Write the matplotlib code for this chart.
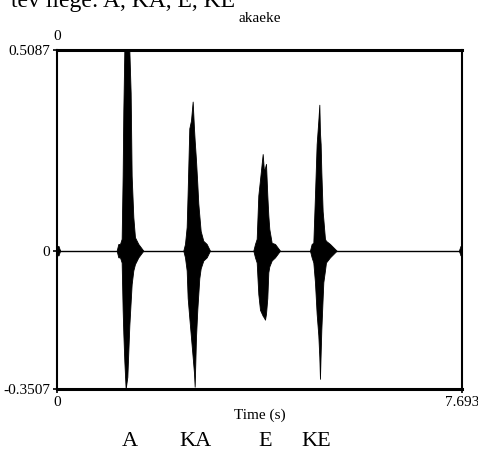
import matplotlib.pyplot as plt

plt.rcParams['font.family'] = ['Liberation Serif', 'DejaVu Serif']

# time axis and amplitude limits
t_max = 7.693
y_top = 0.5087
y_bottom = -0.3507

# envelope of each syllable burst: time (s), upper and lower amplitude
t_a = [1.133, 1.165, 1.197, 1.228, 1.247, 1.260, 1.279, 1.304, 1.336, 1.374, 1.399, 1.418, 1.450, 1.481, 1.545, 1.640]
up_a = [0.0, 0.017, 0.017, 0.03, 0.19, 0.355, 0.5087, 0.5087, 0.5087, 0.5087, 0.40, 0.19, 0.085, 0.034, 0.017, 0.0]
lo_a = [0.0, -0.017, -0.017, -0.03, -0.15, -0.21, -0.28, -0.3507, -0.32, -0.19, -0.13, -0.085, -0.05, -0.034, -0.017, 0.0]

t_ka = [2.399, 2.431, 2.463, 2.482, 2.513, 2.545, 2.577, 2.602, 2.615, 2.640, 2.665, 2.684, 2.703, 2.729, 2.779, 2.843, 2.906]
up_ka = [0.0, 0.017, 0.06, 0.15, 0.31, 0.33, 0.378, 0.31, 0.28, 0.23, 0.17, 0.12, 0.09, 0.05, 0.025, 0.017, 0.0]
lo_ka = [0.0, -0.017, -0.05, -0.12, -0.17, -0.22, -0.27, -0.31, -0.345, -0.22, -0.15, -0.11, -0.07, -0.045, -0.025, -0.017, 0.0]

t_e = [3.729, 3.761, 3.793, 3.824, 3.856, 3.907, 3.932, 3.951, 3.970, 3.995, 4.014, 4.033, 4.078, 4.141, 4.236]
up_e = [0.0, 0.017, 0.03, 0.14, 0.18, 0.245, 0.20, 0.21, 0.22, 0.14, 0.09, 0.055, 0.02, 0.017, 0.0]
lo_e = [0.0, -0.017, -0.03, -0.11, -0.15, -0.165, -0.17, -0.175, -0.16, -0.12, -0.055, -0.04, -0.025, -0.017, 0.0]

t_ke = [4.805, 4.837, 4.869, 4.900, 4.932, 4.964, 4.983, 4.995, 5.008, 5.021, 5.046, 5.059, 5.090, 5.109, 5.185, 5.312]
up_ke = [0.0, 0.017, 0.02, 0.14, 0.27, 0.33, 0.37, 0.30, 0.27, 0.20, 0.10, 0.08, 0.03, 0.025, 0.017, 0.0]
lo_ke = [0.0, -0.017, -0.03, -0.08, -0.16, -0.215, -0.27, -0.325, -0.26, -0.20, -0.12, -0.08, -0.05, -0.03, -0.017, 0.0]

syllables = ['A', 'KA', 'E', 'KE']
syllable_x = [130, 196, 265, 316]  # pixel centres under the plot

fig = plt.figure(figsize=(4.78, 4.55), dpi=100)
ax = fig.add_axes([57 / 478, 66 / 455, 405 / 478, 339 / 455])

ax.axhline(0, color='black', lw=1.0, zorder=1)
for t, up, lo in [(t_a, up_a, lo_a), (t_ka, up_ka, lo_ka), (t_e, up_e, lo_e), (t_ke, up_ke, lo_ke)]:
    ax.fill_between(t, lo, up, color='black', lw=0.6, edgecolor='black', zorder=2)

# little clicks at both ends of the recording
ax.fill_between([0, 0.03, 0.06], [-0.012, -0.012, 0], [0.012, 0.012, 0], color='black', lw=0.5)
ax.fill_between([t_max - 0.06, t_max - 0.03, t_max], [0, -0.012, -0.012], [0, 0.012, 0.012], color='black', lw=0.5)

ax.set_xlim(0, t_max)
ax.set_ylim(y_bottom, y_top)
ax.set_xticks([0, t_max])
ax.set_xticklabels(['0', '7.693'])
ax.set_yticks([y_bottom, 0, y_top])
ax.set_yticklabels(['-0.3507', '0', '0.5087'])
ax.tick_params(axis='both', direction='inout', length=6, width=1.2, labelsize=11, pad=2)
ax.xaxis.set_ticks_position('bottom')
ax.yaxis.set_ticks_position('left')
for side in ['left', 'right']:
    ax.spines[side].set_linewidth(1.5)
for side in ['top', 'bottom']:
    ax.spines[side].set_linewidth(2.2)

ax.set_xlabel('Time (s)', fontsize=11, labelpad=0)
fig.text(57 / 478, 1 - 36 / 455, '0', ha='center', va='center', fontsize=11)
fig.text(260 / 478, 1 - 18 / 455, 'akaeke', ha='center', va='center', fontsize=11)

for s, x in zip(syllables, syllable_x):
    fig.text(x / 478, 1 - 442 / 455, s, ha='center', va='center', fontsize=16)

# line of text above the figure, cut off at the top edge as in the source
fig.text(235 / 478, 1 - 7 / 455, 'tev liege: A, KA, E, KE', ha='right', va='baseline', fontsize=17)

fig.savefig('out.png', dpi=100)
